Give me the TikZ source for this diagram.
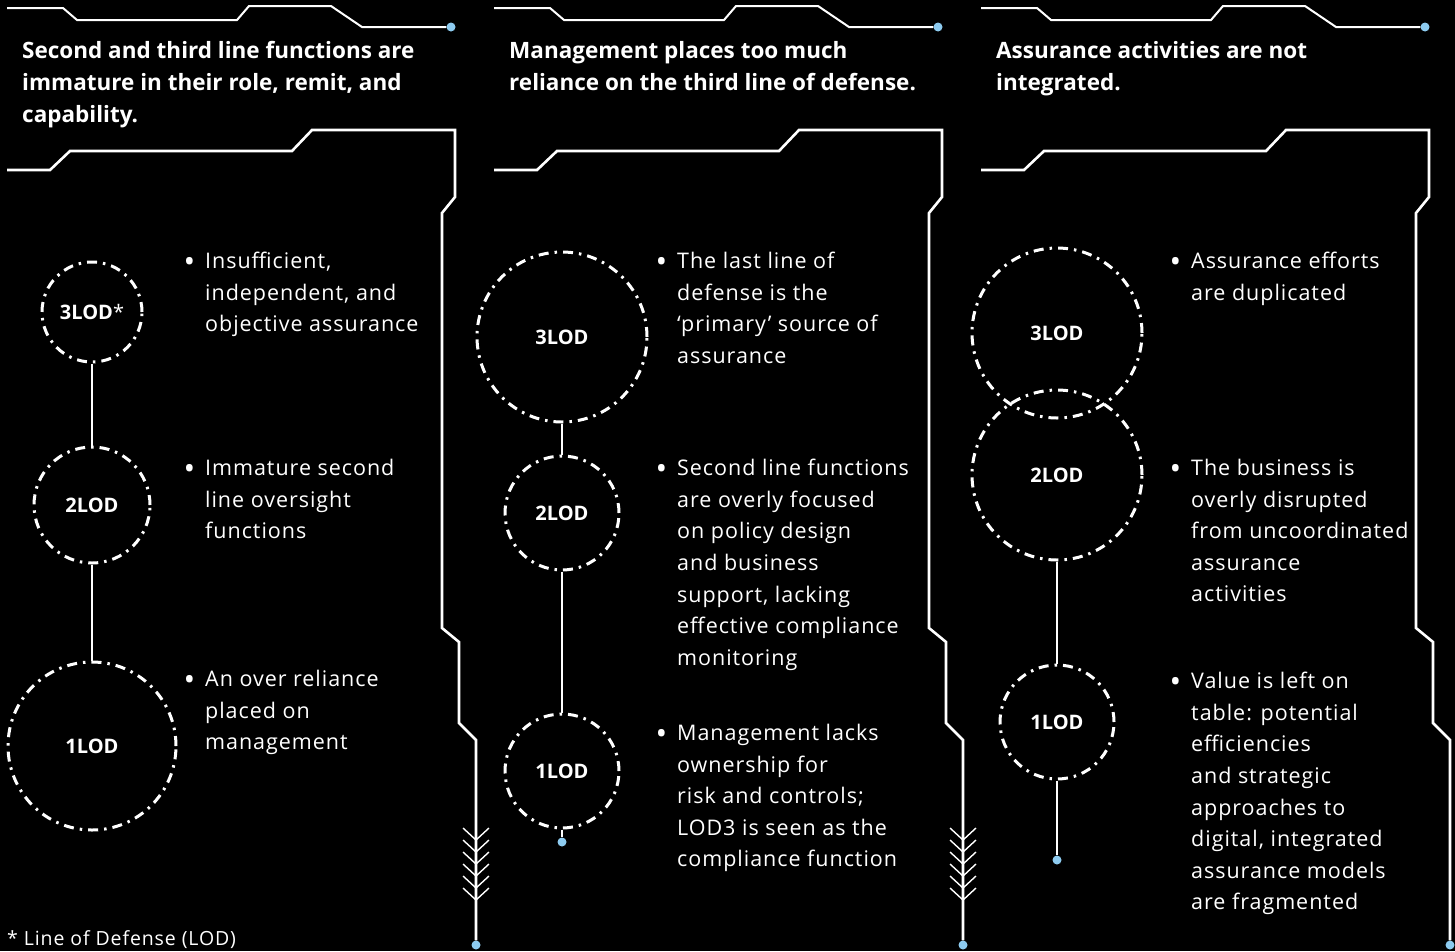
\documentclass[tikz,border=0pt]{standalone}
\usepackage{fontspec}
\setmainfont{Open Sans}
\newfontfamily\bodyfont[LetterSpace=4.5]{Open Sans}
\usepackage{tikz}
\usetikzlibrary{positioning,calc}
\definecolor{night}{HTML}{000000}
\definecolor{wire}{HTML}{FFFFFF}
\definecolor{sky}{HTML}{8DCBF0}
\newcommand{\bul}{\llap{\raisebox{-3.5pt}{\fontsize{31}{31}\selectfont\textbullet}\hspace{10pt}}}
\tikzset{
  trace/.style={draw=wire, line width=2pt, line join=miter},
  rail/.style={trace, line width=2.6pt},
  barb/.style={draw=wire, line width=1.4pt},
  stem/.style={draw=wire, line width=2pt},
  pin/.style={circle, fill=sky, inner sep=0pt, minimum size=9pt},
  ring/.style={circle, draw=wire, line width=3pt, inner sep=0pt,
               dash pattern=on 10pt off 6pt on 2.5pt off 6pt,
               text=wire, font=\fontsize{20}{24}\selectfont\bfseries},
  head/.style={anchor=north west, inner sep=0pt, align=left, text=wire,
               font=\fontsize{22.5}{32}\selectfont\bfseries},
  point/.style={anchor=north west, inner sep=0pt, align=left, text=wire,
                font=\bodyfont\fontsize{21.5}{31.6}\selectfont},
}
% frame of one column: upper trace, lower trace and the rail down the right
\newcommand{\columnframe}[1]{%
  \node[pin] (top#1) at (451,27) {};
  \draw[trace] (7,8) -- (63,8) -- (77,20) -- (237,20) -- (249,6) -- (331,6)
    -- (362,27) -- (top#1);
  \node[pin] (foot#1) at (476,945) {};
  \draw[rail] (7,170) -- (50,170) -- (70,151) -- (292,151) -- (312,130)
    -- (455,130) -- (455,197) -- (442,213) -- (442,628) -- (459,642)
    -- (459,723) -- (476,740) -- (foot#1);
}
\newcommand{\feathers}{%
  \draw[barb] (463,828) -- (476,840) -- (489,828)
              (463,840) -- (476,852) -- (489,840)
              (463,852) -- (476,864) -- (489,852)
              (463,864) -- (476,876) -- (489,864)
              (463,876) -- (476,888) -- (489,876)
              (463,888) -- (476,900) -- (489,888);
}

\begin{document}
\begin{tikzpicture}[x=1pt, y=-1pt]
\fill[night] (0,0) rectangle (1455,951);
\useasboundingbox (0,0) rectangle (1455,951);

% column frames
\columnframe{A} \feathers
\begin{scope}[xshift=487pt]
  \columnframe{B} \feathers
\end{scope}
\begin{scope}[xshift=974pt]
  \columnframe{C}
\end{scope}

% column 1
\node[head] (hA) at (22,41)
 {Second and third line functions are\\immature in their role, remit, and\\capability.};
\node[ring, minimum size=100pt] (a3) at (92,312) {3LOD{\mdseries*}};
\node[ring, minimum size=116pt] (a2) at (92,505) {2LOD};
\node[ring, minimum size=168pt] (a1) at (92,746) {1LOD};
\draw[stem] (a3) -- (a2);
\draw[stem] (a2) -- (a1);
\node[point] (pA3) at (205,252) {\bul Insufficient,\\independent, and\\objective assurance};
\node[point] (pA2) at (205,459) {\bul Immature second\\line oversight\\functions};
\node[point] (pA1) at (205,670) {\bul An over reliance\\placed on\\management};
\node[anchor=base west, inner sep=0pt, text=wire, font=\bodyfont\fontsize{19.5}{24}\selectfont]
  (note) at (7,945) {* Line of Defense (LOD)};

% column 2
\node[head] (hB) at (509,41)
 {Management places too much\\reliance on the third line of defense.};
\node[ring, minimum size=170pt] (b3) at (562,337) {3LOD};
\node[ring, minimum size=114pt] (b2) at (562,513) {2LOD};
\node[ring, minimum size=114pt] (b1) at (562,771) {1LOD};
\node[pin] (endB) at (562,842) {};
\draw[stem] (b3) -- (b2);
\draw[stem] (b2) -- (b1);
\draw[stem] (b1) -- (endB);
\node[point] (pB3) at (677,252) {\bul The last line of\\defense is the\\‘primary’ source of\\assurance};
\node[point] (pB2) at (677,459) {\bul Second line functions\\are overly focused\\on policy design\\and business\\support, lacking\\effective compliance\\monitoring};
\node[point] (pB1) at (677,724) {\bul Management lacks\\ownership for\\risk and controls;\\LOD3 is seen as the\\compliance function};

% column 3
\node[head] (hC) at (996,41)
 {Assurance activities are not\\integrated.};
\node[ring, minimum size=170pt] (c3) at (1057,333) {3LOD};
\node[ring, minimum size=170pt] (c2) at (1057,475) {2LOD};
\node[ring, minimum size=114pt] (c1) at (1057,722) {1LOD};
\node[pin] (endC) at (1057,860) {};
\draw[stem] (c2) -- (c1);
\draw[stem] (c1) -- (endC);
\node[point] (pC3) at (1191,252) {\bul Assurance efforts\\are duplicated};
\node[point] (pC2) at (1191,459) {\bul The business is\\overly disrupted\\from uncoordinated\\assurance\\activities};
\node[point] (pC1) at (1191,672) {\bul Value is left on\\table: potential\\efficiencies\\and strategic\\approaches to\\digital, integrated\\assurance models\\are fragmented};
\end{tikzpicture}
\end{document}
